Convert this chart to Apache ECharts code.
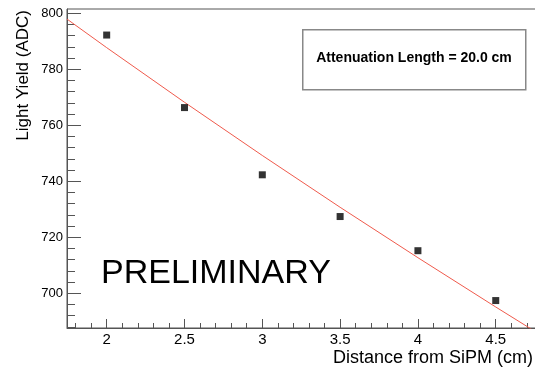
<!DOCTYPE html>
<html>
<head>
<meta charset="utf-8">
<script src="https://cdn.jsdelivr.net/npm/echarts@6/dist/echarts.min.js"></script>
<style>
html,body{margin:0;padding:0;background:#fff;}
#chart{width:535px;height:367px;}
</style>
</head>
<body>
<div id="chart"></div>
<script>
// Data
var distances = [2, 2.5, 3, 3.5, 4, 4.5];
var lightYield = [792.2, 766.3, 742.3, 727.4, 715.2, 697.4];
// Fit curve (attenuation length 20 cm)
var fitX = [1.745, 2, 2.5, 3, 3.5, 4, 4.5, 4.778];
var fitY = [797.9, 787.7, 768.2, 749.2, 730.7, 712.7, 695.1, 685.5];
// Tick values
var xMajorTicks = [2, 2.5, 3, 3.5, 4, 4.5];
var xMinorTicks = [1.8, 1.9, 2.1, 2.2, 2.3, 2.4, 2.6, 2.7, 2.8, 2.9, 3.1, 3.2, 3.3, 3.4, 3.6, 3.7, 3.8, 3.9, 4.1, 4.2, 4.3, 4.4, 4.6, 4.7];
var yMajorTicks = [700, 720, 740, 760, 780, 800];
var yMinorTicks = [688, 692, 696, 704, 708, 712, 716, 724, 728, 732, 736, 744, 748, 752, 756, 764, 768, 772, 776, 784, 788, 792, 796];
var xRange = [1.745, 4.778];
var yRange = [687.6, 801.5];
var xTitle = 'Distance from SiPM (cm)';
var yTitle = 'Light Yield (ADC)';
var boxText = 'Attenuation Length = 20.0 cm';
var watermark = 'PRELIMINARY';

var FONT = 'Liberation Sans, Arial, Helvetica, sans-serif';
var AX = '#555';

var chart = echarts.init(document.getElementById('chart'), null, {renderer: 'canvas'});

var points = distances.map(function (d, i) { return [d, lightYield[i]]; });
var fit = fitX.map(function (d, i) { return [d, fitY[i]]; });

chart.setOption({
  animation: false,
  backgroundColor: '#fff',
  grid: {left: 67, top: 9, right: -4, bottom: 39, outerBoundsMode: 'none', containLabel: false,
         show: true, borderColor: AX, borderWidth: 1, backgroundColor: 'transparent'},
  xAxis: [
    {
      type: 'value', min: xRange[0], max: xRange[1], position: 'bottom',
      axisLine: {show: true, lineStyle: {color: AX, width: 1}},
      axisTick: {show: true, inside: true, length: 9, customValues: xMajorTicks, lineStyle: {color: AX}},
      axisLabel: {show: true, customValues: xMajorTicks, fontSize: 15, color: '#000', fontFamily: FONT, margin: 4},
      splitLine: {show: false}
    },
    {
      type: 'value', min: xRange[0], max: xRange[1], position: 'bottom',
      axisLine: {show: false},
      axisTick: {show: true, inside: true, length: 5, customValues: xMinorTicks, lineStyle: {color: AX}},
      axisLabel: {show: false},
      splitLine: {show: false}
    }
  ],
  yAxis: [
    {
      type: 'value', min: yRange[0], max: yRange[1], position: 'left',
      axisLine: {show: true, lineStyle: {color: AX, width: 1}},
      axisTick: {show: true, inside: true, length: 14, customValues: yMajorTicks, lineStyle: {color: AX}},
      axisLabel: {show: true, customValues: yMajorTicks, fontSize: 13, color: '#000', fontFamily: FONT, margin: 4},
      splitLine: {show: false}
    },
    {
      type: 'value', min: yRange[0], max: yRange[1], position: 'left',
      axisLine: {show: false},
      axisTick: {show: true, inside: true, length: 8, customValues: yMinorTicks, lineStyle: {color: AX}},
      axisLabel: {show: false},
      splitLine: {show: false}
    }
  ],
  series: [
    {
      type: 'line', data: fit, xAxisIndex: 0, yAxisIndex: 0,
      showSymbol: false, symbol: 'none', clip: true,
      lineStyle: {color: '#ef5a4c', width: 1}, z: 2
    },
    {
      type: 'scatter', data: points, xAxisIndex: 0, yAxisIndex: 0,
      symbol: 'rect', symbolSize: 7, itemStyle: {color: '#000'}, z: 3
    }
  ],
  graphic: [
    {
      type: 'rect', left: 302, top: 29, z: 10,
      shape: {width: 223, height: 60},
      style: {fill: '#fff', stroke: '#888', lineWidth: 1.5}
    },
    {
      type: 'text', x: 414, y: 58, z: 11,
      style: {text: boxText, font: 'bold 14px ' + FONT, fill: '#000', align: 'center', verticalAlign: 'middle'}
    },
    {
      type: 'text', x: 101, y: 274, z: 11,
      style: {text: watermark, font: '34px ' + FONT, fill: '#000', align: 'left', verticalAlign: 'middle'}
    },
    {
      type: 'text', x: 533, y: 358, z: 11,
      style: {text: xTitle, font: '18px ' + FONT, fill: '#000', align: 'right', verticalAlign: 'middle'}
    },
    {
      type: 'text', x: 23.5, y: 10, rotation: Math.PI / 2, z: 11,
      style: {text: yTitle, font: '17px ' + FONT, fill: '#000', align: 'right', verticalAlign: 'middle'}
    }
  ]
});
</script>
</body>
</html>
